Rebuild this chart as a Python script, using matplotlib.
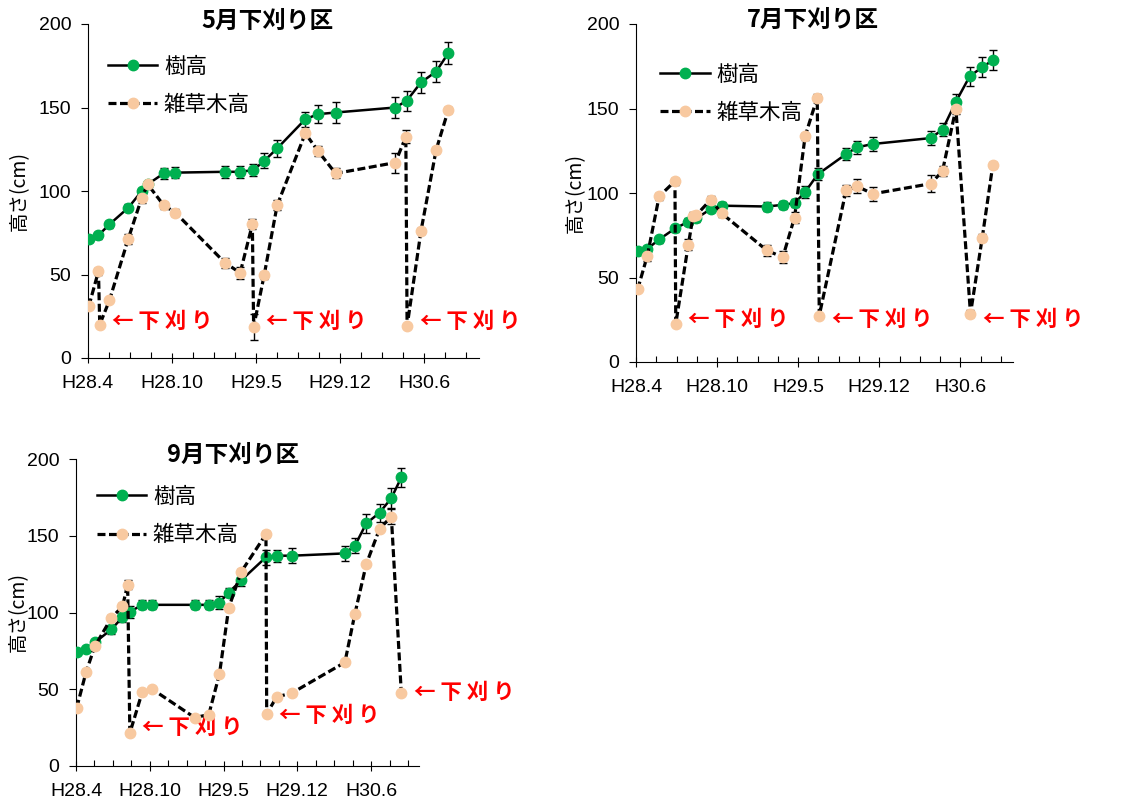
import matplotlib
matplotlib.use("Agg")
import matplotlib.pyplot as plt
from matplotlib.ticker import MultipleLocator, FixedLocator

plt.rcParams["font.family"] = ["Liberation Sans", "Noto Sans CJK JP"]
JP = ["Noto Sans CJK JP", "DejaVu Sans"]

# --- Data (x: days since start of axis, ~H28.4.12) ---
tick_days = [0, 200, 400, 600, 800]
tick_labels = ["H28.4", "H28.10", "H29.5", "H29.12", "H30.6"]

titles = ["5月下刈り区", "7月下刈り区", "9月下刈り区"]

# 5月下刈り区
g1_day = [2, 25, 51, 96, 128, 142, 180, 208, 326, 362, 393, 419, 450, 517, 547, 589, 731, 758, 792, 828, 857]
g1_h = [71, 73.5, 80, 90, 100, 104, 110.5, 111, 111.5, 111.5, 112.5, 118, 125.5, 143, 146, 147, 150, 154, 165, 171.5, 182.5]
g1_err = [1.5, 2, 2, 2, 2, 2, 3.5, 3.5, 3.5, 3.5, 3.5, 4.5, 5, 4.5, 5.5, 6, 6, 6, 6.5, 6.5, 6.5]
o1_day = [2, 25, 28, 51, 96, 128, 142, 180, 208, 326, 362, 391, 394, 419, 450, 517, 547, 589, 731, 756, 759, 792, 828, 857]
o1_h = [31, 52, 20, 34.5, 71.5, 96, 104, 91.5, 87, 57, 51, 80, 18.5, 49.5, 91.5, 134.5, 124, 110.5, 117, 132.5, 19, 76, 124.5, 148.5]
o1_err = [1, 2, 1, 1, 3, 3, 2, 2, 2, 3, 3.5, 3, 8, 2, 3, 2, 3, 3, 6, 4, 1, 2, 2, 2]
o1_cut = [2, 12, 20]

# 7月下刈り区
g2_day = [4, 28, 57, 96, 129, 149, 184, 211, 323, 362, 391, 417, 448, 518, 545, 584, 727, 756, 789, 823, 854, 880]
g2_h = [65.5, 67, 72.5, 79, 83, 85, 90.5, 92.5, 92, 93, 94, 100.5, 111, 123, 127, 129, 132.5, 137.5, 154, 169, 174.5, 178.5]
g2_err = [1.5, 1.5, 2, 2, 2, 2, 2, 2, 2.5, 2.5, 2.5, 3.5, 3.5, 3.5, 4, 4, 4, 4, 4.5, 5.5, 6, 6]
o2_day = [4, 28, 57, 96, 98, 129, 141, 149, 184, 211, 323, 362, 391, 417, 447, 452, 518, 545, 584, 727, 756, 789, 825, 854, 880]
o2_h = [43, 63, 98, 107, 22.5, 69.5, 86.5, 87, 96, 88, 66, 62, 85.5, 133.5, 156.5, 27.5, 101.5, 104, 99.5, 105.5, 113, 150, 28.5, 73.5, 116.5]
o2_err = [1, 3, 2, 2, 1, 3, 2, 2, 2, 2, 3, 3.5, 3, 2, 2, 1, 3.5, 4, 4, 5, 3, 3, 2, 2, 2]
o2_cut = [4, 15, 22]

# 9月下刈り区
g3_day = [2, 27, 51, 96, 126, 146, 180, 207, 322, 360, 389, 414, 448, 515, 544, 585, 729, 756, 787, 823, 855, 882]
g3_h = [74, 76, 80.5, 89, 97, 100.5, 105, 105, 105, 105, 106.5, 113, 121, 136, 137, 137, 138.5, 143.5, 158, 165, 174.5, 188]
g3_err = [1.5, 1.5, 2, 3, 3, 4, 3, 3, 3, 3, 4, 3, 4, 5, 4, 5, 5, 5, 6, 6, 6.5, 6]
o3_day = [2, 27, 51, 96, 126, 140, 146, 180, 207, 322, 360, 389, 414, 448, 515, 517, 544, 585, 729, 756, 787, 823, 855, 882]
o3_h = [38, 61, 78, 96.5, 104, 118, 21.5, 48.5, 50, 31.5, 33.5, 60, 103, 126.5, 151, 34, 45, 47.5, 67.5, 99, 131.5, 154.5, 162.5, 47.5]
o3_err = [1, 2, 2, 2, 2, 3, 1, 1, 1, 1, 1, 1, 2, 2, 2, 1, 1, 1, 1, 1, 1, 1, 5, 1.5]
o3_cut = [6, 15, 23]

panels = [
    (g1_day, g1_h, g1_err, o1_day, o1_h, o1_err, o1_cut),
    (g2_day, g2_h, g2_err, o2_day, o2_h, o2_err, o2_cut),
    (g3_day, g3_h, g3_err, o3_day, o3_h, o3_err, o3_cut),
]

# --- Layout ---
axes_rects = [
    [0.0773, 0.5525, 0.3436, 0.4175],
    [0.5589, 0.5475, 0.3313, 0.4225],
    [0.0668, 0.0425, 0.3014, 0.38375],
]
title_pos = [(0.458, 1.01), (0.469, 1.012), (0.458, 1.013)]
legend_pos = [(0.051, 0.905), (0.064, 0.883), (0.061, 0.912)]
ylabel_x = [-0.176, -0.162, -0.169]
# vertical position (in data units) of the "下刈り" labels
cut_label_y = [[21.6, 21.6, 21.6], [24.9, 24.9, 24.9], [25.4, 33.2, 47.6]]

GREEN = "#00B050"
ORANGE = "#F8C9A0"
CUT_TEXT = "← 下 刈 り"

fig = plt.figure(figsize=(11.38, 8), dpi=100)

for i, (gd, gh, ge, od, oh, oe, cut) in enumerate(panels):
    ax = fig.add_axes(axes_rects[i])

    ax.errorbar(gd, gh, yerr=ge, fmt="none", ecolor="black", elinewidth=1, capsize=3, capthick=1, zorder=2)
    ax.errorbar(od, oh, yerr=oe, fmt="none", ecolor="black", elinewidth=1, capsize=3, capthick=1, zorder=2)
    ax.plot(gd, gh, color="black", lw=1.8, marker="o", ms=7.5,
            mfc=GREEN, mec=GREEN, label="樹高", zorder=3)
    ax.plot(od, oh, color="black", lw=2.3, dashes=(2.5, 1.1), marker="o", ms=7.5,
            mfc=ORANGE, mec=ORANGE, label="雑草木高", zorder=4)

    for k, ty in zip(cut, cut_label_y[i]):
        ax.annotate(CUT_TEXT, xy=(od[k], ty), xytext=(9, 0), textcoords="offset points",
                    ha="left", va="center", color="red", fontsize=15.5, fontweight="bold",
                    family=JP, annotation_clip=False)

    ax.set_xlim(0, 930)
    ax.set_ylim(0, 200)
    ax.xaxis.set_major_locator(FixedLocator(tick_days))
    ax.set_xticklabels(tick_labels)
    ax.xaxis.set_minor_locator(MultipleLocator(50))
    ax.yaxis.set_major_locator(MultipleLocator(50))
    ax.tick_params(axis="x", which="major", direction="inout", length=7, width=0.8, labelsize=14, pad=9)
    ax.tick_params(axis="x", which="minor", direction="in", length=4, width=0.8)
    ax.tick_params(axis="y", which="major", direction="out", length=5, width=0.8, labelsize=14, pad=7)

    for s in ["top", "right"]:
        ax.spines[s].set_visible(False)
    for s in ["left", "bottom"]:
        ax.spines[s].set_linewidth(0.8)

    ax.set_ylabel("高さ(cm)", fontsize=14, family=JP, va="center")
    ax.yaxis.set_label_coords(ylabel_x[i], 0.5)
    ax.text(title_pos[i][0], title_pos[i][1], titles[i], transform=ax.transAxes,
            ha="center", va="center", fontsize=17, fontweight="bold", family=JP)

    ax.legend(loc="upper left", bbox_to_anchor=legend_pos[i], frameon=False,
              prop={"family": JP, "size": 15.5}, handlelength=2.3, handletextpad=0.3,
              labelspacing=0.75, borderaxespad=0, borderpad=0, numpoints=1)

fig.savefig("out.png", dpi=100)
